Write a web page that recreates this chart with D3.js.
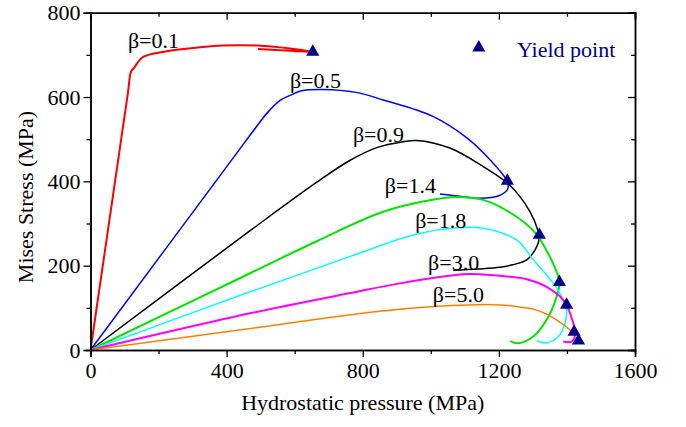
<!DOCTYPE html>
<html>
<head>
<meta charset="utf-8">
<script src="https://cdn.jsdelivr.net/npm/d3@7"></script>
<style>
  body { margin: 0; background: #fff; }
  text { font-family: "Liberation Serif", "Times New Roman", serif; }
</style>
</head>
<body>
<div id="chart"></div>
<script>
// curves, one array per beta value: [hydrostatic pressure, mises stress]
var beta01 = [[0,0],[110,610],[119,660],[128,669],[154,695],[220,708],[300,716],[390,722],[490,722],[586,715],[653,707],[586,710],[492,714]];
var beta05 = [[0,0],[450,489],[488,530],[520,563],[557,592],[590,605],[620,615],[683,618],[780,611],[860,593],[1006,554],[1106,503],[1174,451],[1224,401],[1226,382],[1200,366],[1145,360],[1090,364],[1027,370]];
var beta09 = [[0,0],[469,283],[665,398],[763,450],[841,480],[919,494],[958,497],[1056,479],[1154,435],[1233,390],[1290,330],[1314,285],[1318,262],[1306,237],[1282,214],[1240,202],[1203,196],[1140,192],[1066,189]];
var beta14 = [[0,0],[469,182],[665,258],[860,328],[1017,358],[1076,363],[1154,356],[1252,316],[1310,275],[1340,236],[1365,195],[1378,161],[1370,127],[1340,71],[1301,32],[1257,16],[1233,21]];
var beta18 = [[0,0],[469,138],[763,222],[958,275],[1076,290],[1154,289],[1252,261],[1301,214],[1360,158],[1390,118],[1399,95],[1394,63],[1375,32],[1340,17],[1311,22]];
var beta30 = [[0,0],[469,87],[763,135],[909,158],[1105,180],[1154,179],[1252,172],[1282,168],[1340,150],[1389,119],[1419,63],[1424,36],[1414,20],[1389,20]];
var beta50 = [[0,0],[498,54],[665,73],[850,92],[1008,103],[1110,107],[1203,107],[1260,102],[1301,97],[1340,85],[1370,71],[1394,58],[1409,47],[1421,38]];

var seriesData = [beta01, beta05, beta09, beta14, beta18, beta30, beta50];
var seriesColors = ["#ff0000", "#0000ff", "#000000", "#00e600", "#00ffff", "#ff00ff", "#ff8000"];
var seriesWidths = [2, 1.5, 1.5, 2, 1.5, 2, 1.5];

// curve labels: text, x, y (data units, text start / baseline)
var labelText = ["β=0.1", "β=0.5", "β=0.9", "β=1.4", "β=1.8", "β=3.0", "β=5.0"];
var labelX = [110, 586, 771, 865, 954, 992, 1006];
var labelY = [717, 622, 494, 373, 290, 190, 114];

var yieldPoints = [[653,707],[1225,401],[1319,273],[1378,161],[1399,107],[1421,43],[1434,22]];

var xTicks = [0, 400, 800, 1200, 1600];
var xMinor = [200, 600, 1000, 1400];
var yTicks = [0, 200, 400, 600, 800];
var yMinor = [100, 300, 500, 700];

var width = 686, height = 427;
var plotLeft = 90.5, plotRight = 635, plotTop = 12.7, plotBottom = 350;
var navy = "#00008b";

var svg = d3.select("#chart").append("svg")
  .attr("width", width)
  .attr("height", height);

var x = d3.scaleLinear().domain([0, 1600]).range([plotLeft, plotRight]);
var y = d3.scaleLinear().domain([0, 800]).range([plotBottom, plotTop]);

var line = d3.line()
  .x(function(d) { return x(d[0]); })
  .y(function(d) { return y(d[1]); })
  .curve(d3.curveCatmullRom.alpha(0.5));

// curves
svg.selectAll(".curve")
  .data(seriesData)
  .enter().append("path")
  .attr("class", "curve")
  .attr("d", line)
  .attr("fill", "none")
  .attr("stroke", function(d, i) { return seriesColors[i]; })
  .attr("stroke-width", function(d, i) { return seriesWidths[i]; });

// axes: bottom/left ticks outward, top/right ticks inward
function styleAxis(g) {
  g.select(".domain").attr("stroke", "#000").attr("stroke-width", 1.5);
  g.selectAll(".tick line").attr("stroke", "#000").attr("stroke-width", 1.3);
  g.selectAll("text").attr("font-size", "22px").attr("fill", "#000")
    .attr("font-family", "Liberation Serif, Times New Roman, serif");
}

svg.append("g").attr("transform", "translate(0," + plotBottom + ")")
  .call(d3.axisBottom(x).tickValues(xTicks).tickSize(7).tickPadding(5).tickFormat(d3.format("d")))
  .call(styleAxis);
svg.append("g").attr("transform", "translate(0," + plotBottom + ")")
  .call(d3.axisBottom(x).tickValues(xMinor).tickSize(4).tickFormat(""))
  .call(styleAxis);
svg.append("g").attr("transform", "translate(0," + plotTop + ")")
  .call(d3.axisBottom(x).tickValues(xTicks).tickSize(7).tickFormat(""))
  .call(styleAxis);
svg.append("g").attr("transform", "translate(0," + plotTop + ")")
  .call(d3.axisBottom(x).tickValues(xMinor).tickSize(4).tickFormat(""))
  .call(styleAxis);

svg.append("g").attr("transform", "translate(" + plotLeft + ",0)")
  .call(d3.axisLeft(y).tickValues(yTicks).tickSize(7).tickPadding(3).tickFormat(d3.format("d")))
  .call(styleAxis);
svg.append("g").attr("transform", "translate(" + plotLeft + ",0)")
  .call(d3.axisLeft(y).tickValues(yMinor).tickSize(4).tickFormat(""))
  .call(styleAxis);
svg.append("g").attr("transform", "translate(" + plotRight + ",0)")
  .call(d3.axisLeft(y).tickValues(yTicks).tickSize(7).tickFormat(""))
  .call(styleAxis);
svg.append("g").attr("transform", "translate(" + plotRight + ",0)")
  .call(d3.axisLeft(y).tickValues(yMinor).tickSize(4).tickFormat(""))
  .call(styleAxis);

// yield points
var tri = d3.symbol().type(d3.symbolTriangle).size(75);
svg.selectAll(".yield")
  .data(yieldPoints)
  .enter().append("path")
  .attr("class", "yield")
  .attr("d", tri)
  .attr("transform", function(d) { return "translate(" + x(d[0]) + "," + y(d[1]) + ")"; })
  .attr("fill", navy);

// curve labels
svg.selectAll(".lbl")
  .data(labelText)
  .enter().append("text")
  .attr("class", "lbl")
  .attr("x", function(d, i) { return x(labelX[i]); })
  .attr("y", function(d, i) { return y(labelY[i]); })
  .attr("font-size", "22px")
  .attr("fill", "#000")
  .text(function(d) { return d; });

// legend
svg.append("path")
  .attr("d", tri)
  .attr("transform", "translate(" + x(1141) + "," + y(717) + ")")
  .attr("fill", navy);
svg.append("text")
  .attr("x", x(1253))
  .attr("y", 57)
  .attr("font-size", "22px")
  .attr("fill", navy)
  .text("Yield point");

// axis titles
svg.append("text")
  .attr("x", (plotLeft + plotRight) / 2)
  .attr("y", 410)
  .attr("text-anchor", "middle")
  .attr("font-size", "22px")
  .text("Hydrostatic pressure (MPa)");
svg.append("text")
  .attr("transform", "translate(33," + 197 + ") rotate(-90)")
  .attr("text-anchor", "middle")
  .attr("font-size", "22px")
  .text("Mises Stress (MPa)");
</script>
</body>
</html>
